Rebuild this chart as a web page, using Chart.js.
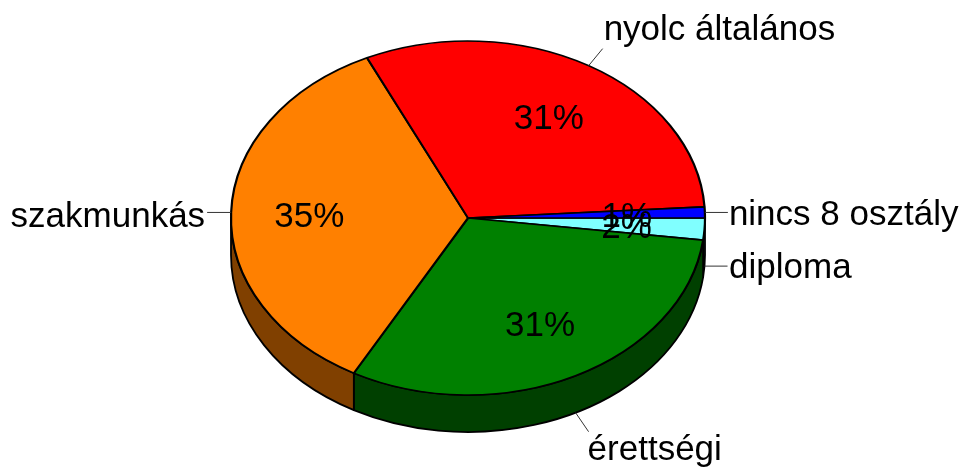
<!DOCTYPE html>
<html><head><meta charset="utf-8">
<script src="https://cdn.jsdelivr.net/npm/chart.js@4"></script>
<style>html,body{margin:0;padding:0;background:#fff;overflow:hidden}</style>
</head><body>
<canvas id="c" width="962" height="470"></canvas>
<script>
// Data (clockwise order starting at 3 o'clock)
const categories = ['diploma', 'érettségi', 'szakmunkás', 'nyolc általános', 'nincs 8 osztály'];
const values = [2, 31, 35, 31, 1];
const percentLabels = ['2%', '31%', '35%', '31%', '1%'];

// Styles
const topColors = ['#80FFFF', '#008000', '#FF8000', '#FF0000', '#0000FF'];
const sideColors = ['#408080', '#004000', '#804000', '#800000', '#000080'];
const GEOM = { cy: 218, squash: 177 / 237, depth: 37, radius: 237, labelR: 0.67, labelDy: 3 };
const FONT = '35px "Liberation Sans", Arial, sans-serif';
// leader end (lx,ly) and text position (tx,ty) relative to each slice's anchor
const labelLayout = [
  { lx: 23, ly: 0, tx: 24.5, ty: 12, align: 'left' },
  { lx: 13, ly: 19, tx: 12, ty: 47, align: 'left' },
  { lx: -24, ly: 0, tx: -26, ty: 15, align: 'right' },
  { lx: 14, ly: -17, tx: 15, ty: -26, align: 'left' },
  { lx: 23, ly: 0, tx: 24, ty: 13, align: 'left' }
];

const pie3d = {
  id: 'pie3d',
  beforeDatasetsDraw(chart) {
    const ctx = chart.ctx;
    const arcs = chart.getDatasetMeta(0).data;
    if (!arcs.length) return;
    const cx = arcs[0].x, cyc = arcs[0].y;
    const rx = arcs[0].outerRadius, ry = rx * GEOM.squash, cy = GEOM.cy, d = GEOM.depth;
    // sides
    ctx.save();
    ctx.lineWidth = 1.8;
    ctx.strokeStyle = '#000';
    ctx.lineJoin = 'round';
    arcs.forEach((arc, i) => {
      const a = Math.max(arc.startAngle, 0), b = Math.min(arc.endAngle, Math.PI);
      if (b <= a) return;
      ctx.beginPath();
      ctx.ellipse(cx, cy, rx, ry, 0, a, b, false);
      ctx.ellipse(cx, cy + d, rx, ry, 0, b, a, true);
      ctx.closePath();
      ctx.fillStyle = sideColors[i];
      ctx.fill();
      ctx.stroke();
    });
    ctx.restore();
    // squash top face
    ctx.save();
    ctx.translate(0, cy);
    ctx.scale(1, GEOM.squash);
    ctx.translate(0, -cyc);
  },
  afterDatasetsDraw(chart) {
    const ctx = chart.ctx;
    ctx.restore();
    const arcs = chart.getDatasetMeta(0).data;
    if (!arcs.length) return;
    const cx = arcs[0].x;
    const rx = arcs[0].outerRadius, ry = rx * GEOM.squash, cy = GEOM.cy, d = GEOM.depth;
    ctx.save();
    ctx.font = FONT;
    ctx.fillStyle = '#000';
    arcs.forEach((arc, i) => {
      const mid = (arc.startAngle + arc.endAngle) / 2;
      // percentage inside
      ctx.textAlign = 'center';
      ctx.textBaseline = 'middle';
      ctx.fillText(percentLabels[i], cx + GEOM.labelR * rx * Math.cos(mid), cy + GEOM.labelR * ry * Math.sin(mid) + GEOM.labelDy);
      // anchor on the rim (bottom of the side for front slices)
      const front = Math.sin(mid) > 0;
      const ax = cx + rx * Math.cos(mid);
      const ay = cy + ry * Math.sin(mid) + (front ? d : 0);
      const L = labelLayout[i];
      ctx.beginPath();
      ctx.moveTo(ax, ay);
      ctx.lineTo(ax + L.lx, ay + L.ly);
      ctx.strokeStyle = '#333';
      ctx.lineWidth = 1;
      ctx.stroke();
      ctx.textAlign = L.align;
      ctx.textBaseline = 'alphabetic';
      ctx.fillText(categories[i], ax + L.tx, ay + L.ty);
    });
    ctx.restore();
  }
};

new Chart(document.getElementById('c'), {
  type: 'pie',
  data: {
    labels: categories,
    datasets: [{
      data: values,
      backgroundColor: topColors,
      borderColor: '#000',
      borderWidth: 2.2,
      clip: false
    }]
  },
  options: {
    responsive: false,
    animation: false,
    rotation: 90,
    radius: GEOM.radius,
    layout: { padding: { right: 26 } },
    plugins: { legend: { display: false }, tooltip: { enabled: false } },
    events: []
  },
  plugins: [pie3d]
});
</script>
</body></html>
